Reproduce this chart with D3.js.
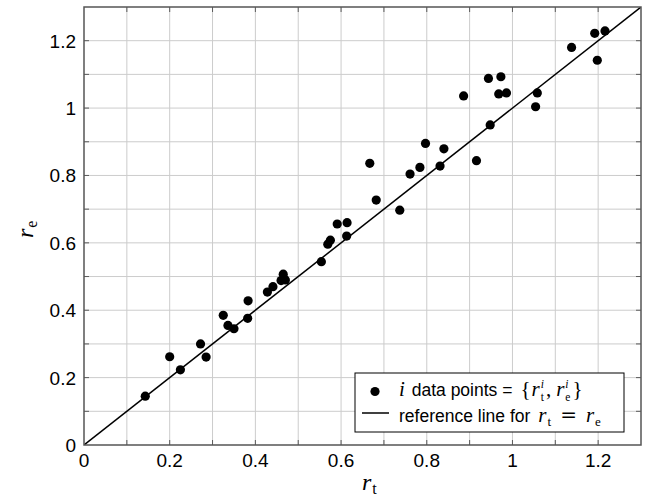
<!DOCTYPE html>
<html>
<head>
<meta charset="utf-8">
<script src="https://cdn.jsdelivr.net/npm/d3@7"></script>
<style>
  html, body { margin: 0; padding: 0; background: #fff; }
  svg { display: block; }
</style>
</head>
<body>
<svg id="chart" width="645" height="499"></svg>
<script>
// Measured ratio pairs: r_t (x) and r_e (y)
const rT = [0.143, 0.200, 0.225, 0.272, 0.285, 0.325, 0.336, 0.350, 0.382, 0.383,
            0.428, 0.441, 0.460, 0.465, 0.470, 0.554, 0.569, 0.575, 0.591, 0.614,
            0.613, 0.667, 0.682, 0.737, 0.761, 0.784, 0.797, 0.831, 0.840, 0.916,
            0.886, 0.948, 0.944, 0.973, 0.968, 0.986, 1.058, 1.054, 1.138, 1.192,
            1.216, 1.198];
const rE = [0.145, 0.262, 0.223, 0.300, 0.261, 0.385, 0.355, 0.345, 0.376, 0.428,
            0.454, 0.470, 0.488, 0.507, 0.490, 0.544, 0.596, 0.608, 0.656, 0.660,
            0.620, 0.836, 0.727, 0.697, 0.804, 0.824, 0.895, 0.828, 0.879, 0.844,
            1.036, 0.950, 1.088, 1.093, 1.042, 1.045, 1.045, 1.004, 1.180, 1.222,
            1.229, 1.142];

const gridValues = [0.1, 0.2, 0.3, 0.4, 0.5, 0.6, 0.7, 0.8, 0.9, 1.0, 1.1, 1.2];
const tickLabelValues = [0, 0.2, 0.4, 0.6, 0.8, 1, 1.2];
const domainMax = 1.3;

const SANS = "'Liberation Sans', Arial, Helvetica, sans-serif";
const SERIF = "'Liberation Serif', 'Times New Roman', serif";
const WIDE = "'DejaVu Serif', serif";

const svg = d3.select("#chart");
const pL = 84, pR = 641, pT = 7, pB = 445;

const x = d3.scaleLinear().domain([0, domainMax]).range([pL, pR]);
const y = d3.scaleLinear().domain([0, domainMax]).range([pB, pT]);

// grid
const grid = svg.append("g").attr("stroke", "#cccccc").attr("stroke-width", 1);
grid.selectAll("line.vx").data(gridValues).join("line")
  .attr("x1", d => x(d)).attr("x2", d => x(d))
  .attr("y1", pT).attr("y2", pB);
grid.selectAll("line.hy").data(gridValues).join("line")
  .attr("y1", d => y(d)).attr("y2", d => y(d))
  .attr("x1", pL).attr("x2", pR);

// inward ticks on all four sides
const tickLen = 5;
const tk = svg.append("g").attr("stroke", "#5a5a5a").attr("stroke-width", 1);
gridValues.forEach(v => {
  tk.append("line").attr("x1", x(v)).attr("x2", x(v)).attr("y1", pB).attr("y2", pB - tickLen);
  tk.append("line").attr("x1", x(v)).attr("x2", x(v)).attr("y1", pT).attr("y2", pT + tickLen);
  tk.append("line").attr("y1", y(v)).attr("y2", y(v)).attr("x1", pL).attr("x2", pL + tickLen);
  tk.append("line").attr("y1", y(v)).attr("y2", y(v)).attr("x1", pR).attr("x2", pR - tickLen);
});

// reference line r_t = r_e
const clipId = "plotclip";
svg.append("clipPath").attr("id", clipId).append("rect")
  .attr("x", pL).attr("y", pT).attr("width", pR - pL).attr("height", pB - pT);
svg.append("line")
  .attr("clip-path", `url(#${clipId})`)
  .attr("x1", x(0)).attr("y1", y(0))
  .attr("x2", x(domainMax)).attr("y2", y(domainMax))
  .attr("stroke", "#000").attr("stroke-width", 1.5);

// data points
const dotR = 4.6;
svg.append("g").selectAll("circle").data(rT.map((v, i) => [v, rE[i]])).join("circle")
  .attr("cx", d => x(d[0])).attr("cy", d => y(d[1])).attr("r", dotR).attr("fill", "#000");

// frame
svg.append("rect").attr("x", pL).attr("y", pT).attr("width", pR - pL).attr("height", pB - pT)
  .attr("fill", "none").attr("stroke", "#555").attr("stroke-width", 1.5);

// tick labels
const fmt = d => d === 0 ? "0" : d === 1 ? "1" : d3.format(".1f")(d);
svg.append("g").selectAll("text").data(tickLabelValues).join("text")
  .attr("x", d => x(d)).attr("y", pB + 22)
  .attr("text-anchor", "middle")
  .attr("font-family", SANS).attr("font-size", 19).attr("fill", "#000")
  .text(fmt);
svg.append("g").selectAll("text").data(tickLabelValues).join("text")
  .attr("x", pL - 8).attr("y", d => y(d) + 7)
  .attr("text-anchor", "end")
  .attr("font-family", SANS).attr("font-size", 19).attr("fill", "#000")
  .text(fmt);

// One text element per line; each run is a tspan placed after the previous one.
// A run with `stack` puts a subscript and a superscript at the same x.
function runs(g, x0, y0, parts) {
  const t = g.append("text").attr("x", x0).attr("y", y0).attr("fill", "#000")
    .style("white-space", "pre");
  let cx = x0;
  parts.forEach(p => {
    cx += (p.pre || 0);
    let w = 0;
    (p.stack || [p]).forEach(q => {
      const ts = t.append("tspan")
        .attr("x", cx).attr("y", y0 + (q.shift || 0))
        .attr("font-family", q.f === "sans" ? SANS : q.f === "wide" ? WIDE : SERIF)
        .attr("font-style", q.it ? "italic" : "normal")
        .attr("font-size", q.s)
        .text(q.t);
      w = Math.max(w, ts.node().getComputedTextLength());
    });
    cx += w + (p.kern || 0);
  });
  return cx - x0;
}

// axis labels
runs(svg.append("g"), 362, 490, [
  { t: "r", f: "serif", it: true, s: 24, kern: 1 },
  { t: "t", f: "serif", s: 16, shift: 4 }
]);
runs(svg.append("g").attr("transform", "translate(33,238) rotate(-90)"), 0, 0, [
  { t: "r", f: "serif", it: true, s: 24, kern: 1 },
  { t: "e", f: "serif", s: 16, shift: 4 }
]);

// legend
const lg = svg.append("g");
lg.append("rect").attr("x", 355).attr("y", 373).attr("width", 269).attr("height", 59)
  .attr("fill", "#fff").attr("stroke", "#000").attr("stroke-width", 1);
lg.append("circle").attr("cx", 375).attr("cy", 391.5).attr("r", dotR).attr("fill", "#000");
lg.append("line").attr("x1", 362).attr("x2", 389).attr("y1", 413).attr("y2", 413)
  .attr("stroke", "#000").attr("stroke-width", 1.5);

const LS = 17.5, MS = 21, SS = 11.5;
runs(lg, 399, 396, [
  { t: "i", f: "serif", it: true, s: MS, kern: 2 },
  { t: " data points =", f: "sans", s: LS, kern: 8 },
  { t: "{", f: "serif", s: MS, kern: 1 },
  { t: "r", f: "serif", it: true, s: MS, kern: 1 },
  { stack: [{ t: "t", f: "serif", s: SS, shift: 4.5 }, { t: "i", f: "serif", it: true, s: SS, shift: -8 }], kern: 2 },
  { t: ",", f: "serif", s: MS, kern: 5 },
  { t: "r", f: "serif", it: true, s: MS, kern: 1 },
  { stack: [{ t: "e", f: "serif", s: SS, shift: 4.5 }, { t: "i", f: "serif", it: true, s: SS, shift: -8 }], kern: 2 },
  { t: "}", f: "serif", s: MS }
]);
runs(lg, 399, 422, [
  { t: "reference line for", f: "sans", s: LS, kern: 8 },
  { t: "r", f: "serif", it: true, s: MS, kern: 1 },
  { t: "t", f: "serif", s: 13, shift: 4, kern: 9 },
  { t: "=", f: "wide", s: MS - 1, kern: 9 },
  { t: "r", f: "serif", it: true, s: MS, kern: 1 },
  { t: "e", f: "serif", s: 13, shift: 4 }
]);
</script>
</body>
</html>
